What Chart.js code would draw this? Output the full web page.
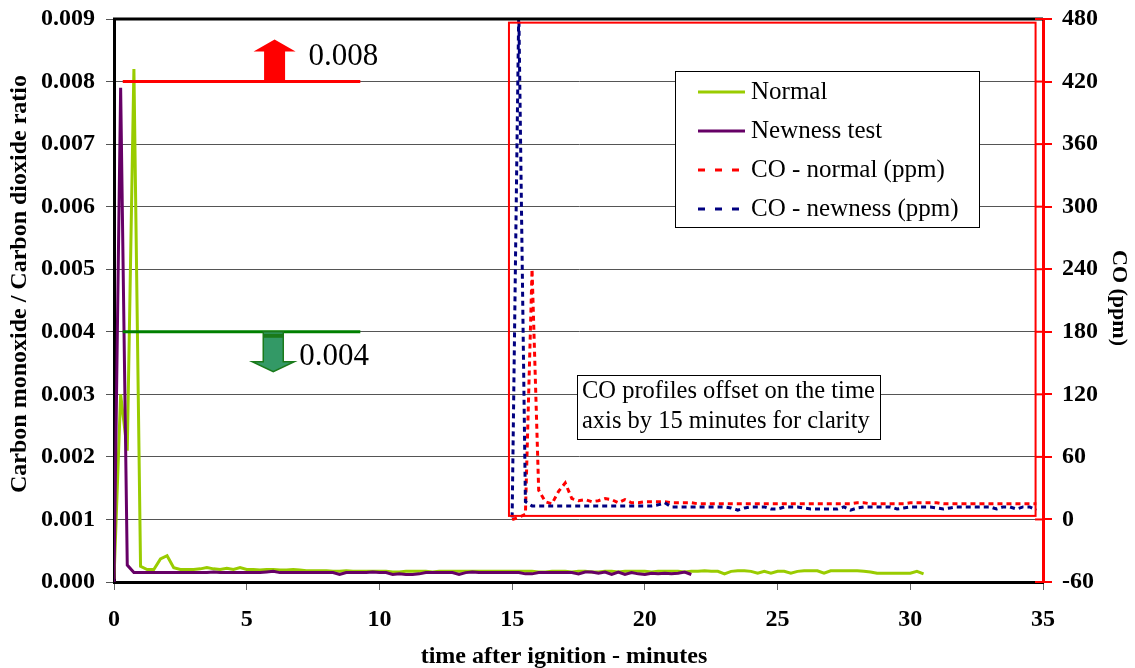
<!DOCTYPE html>
<html>
<head>
<meta charset="utf-8">
<script src="https://cdn.jsdelivr.net/npm/chart.js@4.4.1/dist/chart.umd.min.js"></script>
<style>
  body { margin: 0; background: #fff; }
  #wrap { width: 1135px; height: 668px; }
</style>
</head>
<body>
<div id="wrap"><canvas id="coChart" width="1135" height="668"></canvas></div>
<script>
// sampling: one reading every 15 s, CO traces shifted by 15 minutes
const sampleStep = 0.25;
const coOffset = 15;

// CO / CO2 ratio, normal test
const normalRatio = [
  0.00005, 0.0030, 0.0021, 0.0082, 0.00025, 0.00020, 0.00020, 0.00037, 0.00042, 0.00023,
  0.00020, 0.00020, 0.00020, 0.00021, 0.00023, 0.00021, 0.00020, 0.00022, 0.00020, 0.00023,
  0.00020, 0.00020, 0.00019, 0.00020, 0.00020, 0.00019, 0.00019, 0.00020, 0.00019, 0.00018,
  0.00018, 0.00018, 0.00018, 0.00017, 0.00017, 0.00018, 0.00017, 0.00017, 0.00017, 0.00017,
  0.00017, 0.00017, 0.00016, 0.00016, 0.00017, 0.00017, 0.00017, 0.00017, 0.00016, 0.00017,
  0.00017, 0.00017, 0.00017, 0.00017, 0.00017, 0.00017, 0.00017, 0.00017, 0.00017, 0.00017,
  0.00017, 0.00017, 0.00017, 0.00017, 0.00016, 0.00016, 0.00017, 0.00017, 0.00017, 0.00016,
  0.00017, 0.00017, 0.00016, 0.00016, 0.00017, 0.00017, 0.00016, 0.00017, 0.00017, 0.00017,
  0.00017, 0.00016, 0.00017, 0.00017, 0.00017, 0.00017, 0.00016, 0.00017, 0.00017, 0.00018,
  0.00017, 0.00017, 0.00013, 0.00017, 0.00018, 0.00018, 0.00017, 0.00014, 0.00017, 0.00014,
  0.00017, 0.00017, 0.00014, 0.00017, 0.00018, 0.00018, 0.00018, 0.00014, 0.00018, 0.00018,
  0.00018, 0.00018, 0.00018, 0.00017, 0.00016, 0.00014, 0.00014, 0.00014, 0.00014, 0.00014,
  0.00014, 0.00017, 0.00013
];

// CO / CO2 ratio, newness test
const newnessRatio = [
  0.00000, 0.00790, 0.00027, 0.00015, 0.00015, 0.00015, 0.00015, 0.00015, 0.00015, 0.00015,
  0.00015, 0.00015, 0.00015, 0.00015, 0.00015, 0.00016, 0.00015, 0.00015, 0.00015, 0.00015,
  0.00015, 0.00015, 0.00015, 0.00016, 0.00017, 0.00015, 0.00015, 0.00015, 0.00015, 0.00015,
  0.00015, 0.00015, 0.00015, 0.00015, 0.00012, 0.00015, 0.00015, 0.00015, 0.00015, 0.00016,
  0.00015, 0.00015, 0.00012, 0.00013, 0.00012, 0.00012, 0.00013, 0.00015, 0.00015, 0.00015,
  0.00015, 0.00015, 0.00012, 0.00015, 0.00016, 0.00015, 0.00015, 0.00015, 0.00015, 0.00015,
  0.00015, 0.00015, 0.00013, 0.00013, 0.00015, 0.00015, 0.00015, 0.00015, 0.00015, 0.00015,
  0.00013, 0.00016, 0.00016, 0.00014, 0.00016, 0.00012, 0.00016, 0.00012, 0.00015, 0.00013,
  0.00012, 0.00014, 0.00013, 0.00014, 0.00013, 0.00014, 0.00016, 0.00012
];

// CO in ppm (right axis)
const coNormal = [
  0, 2, 5, 240, 28, 17, 15, 27, 35, 20,
  18, 19, 17, 18, 20, 19, 16, 19, 16, 16,
  17, 17, 17, 17, 16, 16, 16, 16, 15, 15,
  15, 15, 15, 15, 15, 15, 15, 15, 15, 15,
  15, 15, 15, 15, 15, 15, 15, 15, 15, 15,
  15, 15, 16, 16, 15, 15, 15, 15, 15, 15,
  16, 16, 16, 16, 16, 15, 15, 15, 15, 15,
  15, 15, 15, 15, 15, 15, 15, 15, 15, 15
];

const coNewness = [
  2, 490, 17, 13, 13, 13, 13, 13, 13, 13,
  13, 13, 13, 13, 13, 13, 13, 13, 13, 13,
  13, 13, 14, 16, 12, 12, 12, 12, 12, 12,
  12, 12, 12, 11, 9, 11, 12, 12, 12, 10,
  10, 12, 12, 12, 11, 10, 10, 10, 10, 10,
  12, 9, 11, 12, 12, 12, 12, 12, 10, 11,
  12, 12, 12, 12, 11, 10, 11, 12, 12, 12,
  12, 12, 12, 10, 12, 12, 10, 12, 12, 9
];

const seriesNames = ['Normal', 'Newness test', 'CO - normal (ppm)', 'CO - newness (ppm)'];
const axisTitles = ['time after ignition - minutes', 'Carbon monoxide / Carbon dioxide ratio', 'CO (ppm)'];
const upperLimit = 0.008;
const lowerLimit = 0.004;
const limitText = ['0.008', '0.004'];
const noteLines = ['CO profiles offset on the time', 'axis by 15 minutes for clarity'];

const serif = "'Liberation Serif', 'Times New Roman', serif";

function toPoints(values, offset) {
  return values.map((v, i) => ({ x: offset + i * sampleStep, y: v }));
}

const data = {
  datasets: [
    {
      label: seriesNames[1],
      data: toPoints(newnessRatio, 0),
      borderColor: '#660066',
      borderWidth: 3,
      yAxisID: 'y',
      order: 1
    },
    {
      label: seriesNames[0],
      data: toPoints(normalRatio, 0),
      borderColor: '#99cc00',
      borderWidth: 3,
      yAxisID: 'y',
      order: 2
    },
    {
      label: seriesNames[3],
      data: toPoints(coNewness, coOffset),
      borderColor: '#000080',
      borderWidth: 3,
      borderDash: [5, 4],
      yAxisID: 'y2',
      order: 3
    },
    {
      label: seriesNames[2],
      data: toPoints(coNormal, coOffset),
      borderColor: '#ff0000',
      borderWidth: 3,
      borderDash: [5, 4],
      yAxisID: 'y2',
      order: 4
    }
  ]
};

// extras drawn on top: frame, limit lines, arrows, boxes, legend, axis titles
const extras = {
  id: 'extras',
  afterDatasetsDraw(chart) {
    const ctx = chart.ctx;
    const area = chart.chartArea;
    const sx = chart.scales.x, sy = chart.scales.y, sy2 = chart.scales.y2;
    ctx.save();

    // top frame line
    ctx.strokeStyle = '#000';
    ctx.lineWidth = 3;
    ctx.beginPath();
    ctx.moveTo(area.left - 1, area.top);
    ctx.lineTo(area.right, area.top);
    ctx.stroke();

    // red box round the CO traces
    const bx0 = sx.getPixelForValue(14.88), bx1 = sx.getPixelForValue(34.72);
    const by0 = sy2.getPixelForValue(476.5), by1 = sy2.getPixelForValue(3.4);
    ctx.strokeStyle = '#ff0000';
    ctx.lineWidth = 2;
    ctx.strokeRect(bx0, by0, bx1 - bx0, by1 - by0);

    // inner half of red ticks on CO axis
    ctx.lineWidth = 2;
    sy2.ticks.forEach(t => {
      const py = sy2.getPixelForValue(t.value);
      ctx.beginPath();
      ctx.moveTo(area.right - 8, py);
      ctx.lineTo(area.right, py);
      ctx.stroke();
    });

    // limit lines
    const lx0 = sx.getPixelForValue(0.33), lx1 = sx.getPixelForValue(9.28);
    const yu = sy.getPixelForValue(upperLimit), yl = sy.getPixelForValue(lowerLimit);
    ctx.lineWidth = 3;
    ctx.strokeStyle = '#ff0000';
    ctx.beginPath(); ctx.moveTo(lx0, yu); ctx.lineTo(lx1, yu); ctx.stroke();
    ctx.strokeStyle = '#008000';
    ctx.beginPath(); ctx.moveTo(lx0, yl); ctx.lineTo(lx1, yl); ctx.stroke();

    // up arrow (red)
    const ax = sx.getPixelForValue(6.05);
    ctx.fillStyle = '#ff0000';
    ctx.beginPath();
    ctx.moveTo(ax - 10.5, yu);
    ctx.lineTo(ax - 10.5, yu - 30);
    ctx.lineTo(ax - 21, yu - 30);
    ctx.lineTo(ax, yu - 42);
    ctx.lineTo(ax + 21, yu - 30);
    ctx.lineTo(ax + 10.5, yu - 30);
    ctx.lineTo(ax + 10.5, yu);
    ctx.closePath();
    ctx.fill();

    // down arrow (green)
    const gx = sx.getPixelForValue(6.0);
    ctx.fillStyle = '#339966';
    ctx.strokeStyle = '#1a7a1a';
    ctx.lineWidth = 1.5;
    ctx.beginPath();
    ctx.moveTo(gx - 10, yl);
    ctx.lineTo(gx - 10, yl + 30);
    ctx.lineTo(gx - 21, yl + 30);
    ctx.lineTo(gx, yl + 40);
    ctx.lineTo(gx + 21, yl + 30);
    ctx.lineTo(gx + 10, yl + 30);
    ctx.lineTo(gx + 10, yl);
    ctx.closePath();
    ctx.fill();
    ctx.stroke();
    ctx.fillStyle = '#1a7a1a';
    ctx.fillRect(gx - 10, yl + 2, 20, 4);

    // limit values
    ctx.fillStyle = '#000';
    ctx.font = '31px ' + serif;
    ctx.textBaseline = 'middle';
    ctx.textAlign = 'left';
    ctx.fillText(limitText[0], ax + 34, yu - 25);
    ctx.fillText(limitText[1], gx + 26, yl + 25);

    // note box
    ctx.font = '24.5px ' + serif;
    const nx = 577, ny = 375, nw = 303, nh = 64;
    ctx.fillStyle = '#fff';
    ctx.fillRect(nx, ny, nw, nh);
    ctx.strokeStyle = '#000';
    ctx.lineWidth = 1;
    ctx.strokeRect(nx + 0.5, ny + 0.5, nw, nh);
    ctx.fillStyle = '#000';
    ctx.fillText(noteLines[0], nx + 5, ny + 17);
    ctx.fillText(noteLines[1], nx + 5, ny + 47);

    // legend box
    const gxl = 675, gyl = 71, gw = 304, gh = 156;
    ctx.fillStyle = '#fff';
    ctx.fillRect(gxl, gyl, gw, gh);
    ctx.strokeStyle = '#000';
    ctx.lineWidth = 1;
    ctx.strokeRect(gxl + 0.5, gyl + 0.5, gw, gh);
    ctx.font = '25px ' + serif;
    const order = [1, 0, 3, 2];
    order.forEach((di, row) => {
      const ds = chart.data.datasets[di];
      const ry = gyl + 21 + row * 39;
      ctx.strokeStyle = ds.borderColor;
      ctx.lineWidth = 3;
      ctx.setLineDash(ds.borderDash ? [7, 10] : []);
      ctx.beginPath();
      ctx.moveTo(698, ry);
      ctx.lineTo(745, ry);
      ctx.stroke();
      ctx.setLineDash([]);
      ctx.fillStyle = '#000';
      ctx.fillText(ds.label, 751, ry);
    });

    // axis titles
    ctx.fillStyle = '#000';
    ctx.textAlign = 'center';
    ctx.textBaseline = 'middle';
    ctx.font = 'bold 24px ' + serif;
    ctx.fillText(axisTitles[0], 564, 657);
    ctx.save();
    ctx.translate(20, 284);
    ctx.rotate(-Math.PI / 2);
    ctx.fillText(axisTitles[1], 0, 0);
    ctx.restore();
    ctx.font = 'bold 22px ' + serif;
    ctx.save();
    ctx.translate(1119, 298);
    ctx.rotate(Math.PI / 2);
    ctx.fillText(axisTitles[2], 0, 0);
    ctx.restore();

    ctx.restore();
  }
};

const tickFont = { family: serif, size: 24, weight: 'bold' };

const config = {
  type: 'line',
  data: data,
  options: {
    responsive: false,
    animation: false,
    devicePixelRatio: 1,
    layout: { padding: { top: 19, left: 0, right: 0, bottom: 0 } },
    elements: { point: { radius: 0 }, line: { tension: 0 } },
    plugins: { legend: { display: false }, tooltip: { enabled: false } },
    scales: {
      x: {
        type: 'linear',
        min: 0,
        max: 35,
        ticks: { stepSize: 5, font: tickFont, color: '#000', padding: 15 },
        grid: { drawOnChartArea: false, tickLength: 8, color: '#666' },
        border: { color: '#000', width: 3 },
        afterFit(s) { s.height = 86; s.paddingLeft = 0; s.paddingRight = 0; }
      },
      y: {
        position: 'left',
        min: 0,
        max: 0.009,
        ticks: { stepSize: 0.001, font: tickFont, color: '#000', padding: 11, callback: v => v.toFixed(3) },
        grid: { color: '#555', tickLength: 8 },
        border: { color: '#000', width: 3 },
        afterFit(s) { s.width = 114; s.paddingTop = 0; s.paddingBottom = 0; }
      },
      y2: {
        position: 'right',
        min: -60,
        max: 480,
        ticks: { stepSize: 60, font: tickFont, color: '#000', padding: 10 },
        grid: { drawOnChartArea: false, color: '#ff0000', lineWidth: 2, tickLength: 9 },
        border: { color: '#ff0000', width: 3 },
        afterFit(s) { s.width = 92; s.paddingTop = 0; s.paddingBottom = 0; }
      }
    }
  },
  plugins: [extras]
};

new Chart(document.getElementById('coChart').getContext('2d'), config);
</script>
</body>
</html>
